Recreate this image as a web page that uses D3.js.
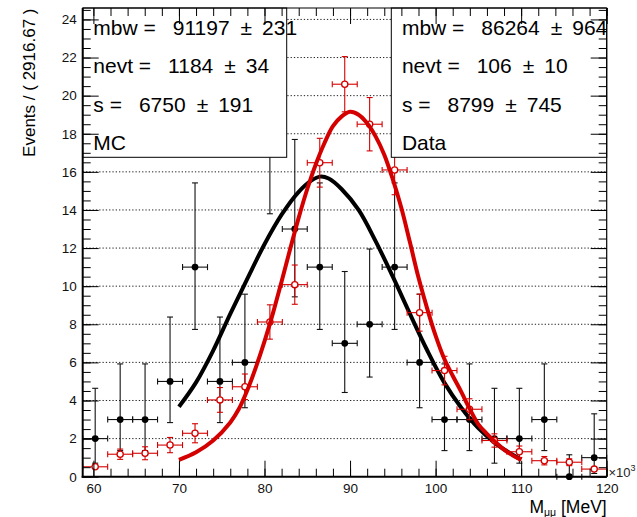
<!DOCTYPE html>
<html><head><meta charset="utf-8">
<script src="https://cdn.jsdelivr.net/npm/d3@7/dist/d3.min.js"></script>
<style>
body{margin:0;background:#fff;}
svg{display:block;font-family:"Liberation Sans",Arial,Helvetica,sans-serif;}
</style>
</head><body>
<svg id="chart" width="637" height="517"></svg>
<script>
// ---- data (x in MeV x10^3) ----
const binCenters = [60.21, 63.13, 66.04, 68.96, 71.88, 74.79, 77.71, 80.63, 83.54, 86.46, 89.38,
                    92.29, 95.21, 98.13, 101.04, 103.96, 106.88, 109.79, 112.71, 115.63, 118.54];
const binHalfWidth = 1.4583;
const mcCounts  = [2, 3, 3, 5, 11, 5, 6, 18, 13, 11, 7, 8, 11, 6, 3, 3, 2, 2, 3, 0, 1];
const mcErrLow  = [1.29, 1.63, 1.63, 2.16, 3.27, 2.16, 2.38, 4.20, 3.56, 3.27, 2.58, 2.77, 3.27, 2.38, 1.63, 1.63, 1.29, 1.29, 1.63, 0, 0.83];
const mcErrHigh = [2.64, 2.92, 2.92, 3.38, 4.42, 3.38, 3.58, 5.32, 4.70, 4.42, 3.77, 3.95, 4.42, 3.58, 2.92, 2.92, 2.64, 2.64, 2.92, 1.15, 2.30];
const dataValues = [0.52, 1.18, 1.23, 1.66, 2.28, 4.03, 4.72, 8.12, 10.08, 16.48, 20.6,
                    18.5, 16.1, 8.61, 5.57, 3.54, 1.90, 1.31, 0.84, 0.76, 0.40];
const dataErr    = [0.15, 0.27, 0.34, 0.40, 0.50, 0.65, 0.67, 0.90, 1.03, 1.28, 1.45,
                    1.40, 1.30, 0.97, 0.75, 0.55, 0.35, 0.30, 0.22, 0.18, 0.12];
const mcFitX = [70, 72, 74, 76, 78, 80, 82, 84, 85.5, 86.5, 87.5, 89, 91, 93, 95, 97, 99, 101, 103, 105, 107, 109, 110];
const mcFitY = [3.67, 4.95, 6.62, 8.55, 10.4, 12.2, 13.75, 14.95, 15.55, 15.75, 15.65, 15.1, 14.0, 12.35, 10.5, 8.55, 6.65, 4.95, 3.62, 2.55, 1.75, 1.15, 0.9];
const dataFitX = [70, 72, 74, 76, 77, 78, 79, 80, 81, 82, 83, 84, 85, 86, 87, 88, 89, 90, 91, 92, 93, 94, 95, 96, 97, 98, 99, 100, 101, 102, 103, 104, 105, 106, 107, 108, 109, 110];
const dataFitY = [0.88, 1.28, 1.9, 2.85, 3.55, 4.55, 5.75, 7.1, 8.6, 10.25, 11.95, 13.6, 15.1, 16.4, 17.5, 18.4, 18.9, 19.15, 19.0, 18.55, 17.85, 16.9, 15.6, 14.1, 12.3, 10.45, 8.85, 7.4, 6.2, 5.3, 4.45, 3.55, 2.75, 2.25, 1.82, 1.42, 1.12, 0.88];
const xTicks = [60, 70, 80, 90, 100, 110, 120];
const yTicks = [0, 2, 4, 6, 8, 10, 12, 14, 16, 18, 20, 22, 24];
const mcStats   = [["mbw =", "91197", "231"], ["nevt =", "1184", "34"], ["s =", "6750", "191"]];
const mcTitle = "MC";
const dataStats = [["mbw =", "86264", "964"], ["nevt =", "106", "10"], ["s =", "8799", "745"]];
const dataTitle = "Data";
const yTitle = "Events / ( 2916.67 )";

// ---- layout ----
const svg = d3.select("#chart");
const L = 82.7, R = 606.7, T = 8, B = 476.7;
const x = d3.scaleLinear().domain([58.75, 120]).range([L, R]);
const y = d3.scaleLinear().domain([0, 24.6]).range([B, T]);
const RED = "#d40000";

svg.append("rect").attr("width", 637).attr("height", 517).attr("fill", "#fff");

// grid
svg.append("g").selectAll("line").data(yTicks.filter(d => d > 0)).join("line")
  .attr("x1", L).attr("x2", R).attr("y1", d => y(d)).attr("y2", d => y(d))
  .attr("stroke", "#222").attr("stroke-width", 1).attr("stroke-dasharray", "1.3 2");

// MC points
const gMC = svg.append("g").attr("stroke", "#111").attr("stroke-width", 1.1);
binCenters.forEach((c, i) => {
  const v = mcCounts[i], cx = x(c), cy = y(v);
  const y1 = y(v + mcErrHigh[i]), y2 = y(v - mcErrLow[i]);
  const xa = x(c - binHalfWidth), xb = x(c + binHalfWidth);
  gMC.append("line").attr("x1", cx).attr("x2", cx).attr("y1", y1).attr("y2", y2);
  gMC.append("line").attr("x1", xa).attr("x2", xb).attr("y1", cy).attr("y2", cy);
  [y1, y2].forEach(yy => gMC.append("line").attr("x1", cx - 3).attr("x2", cx + 3).attr("y1", yy).attr("y2", yy));
  [xa, xb].forEach(xx => gMC.append("line").attr("x1", xx).attr("x2", xx).attr("y1", cy - 3).attr("y2", cy + 3));
  gMC.append("circle").attr("cx", cx).attr("cy", cy).attr("r", 3.4).attr("fill", "#000").attr("stroke", "none");
});

const line = d3.line().x(d => x(d[0])).y(d => y(d[1])).curve(d3.curveCatmullRom);
svg.append("path").datum(mcFitX.map((d, i) => [d, mcFitY[i]]))
  .attr("d", line).attr("fill", "none").attr("stroke", "#000").attr("stroke-width", 4);

// Data points
const gD = svg.append("g").attr("stroke", RED).attr("stroke-width", 1.1);
const r = 3.1;
binCenters.forEach((c, i) => {
  const v = dataValues[i], e = dataErr[i], cx = x(c), cy = y(v);
  const y1 = y(v + e), y2 = y(v - e);
  const xa = x(c - binHalfWidth), xb = x(c + binHalfWidth);
  if (cy - y1 > r) gD.append("line").attr("x1", cx).attr("x2", cx).attr("y1", y1).attr("y2", cy - r);
  if (y2 - cy > r) gD.append("line").attr("x1", cx).attr("x2", cx).attr("y1", cy + r).attr("y2", y2);
  gD.append("line").attr("x1", xa).attr("x2", cx - r).attr("y1", cy).attr("y2", cy);
  gD.append("line").attr("x1", cx + r).attr("x2", xb).attr("y1", cy).attr("y2", cy);
  if (cy - y1 > r) gD.append("line").attr("x1", cx - 3).attr("x2", cx + 3).attr("y1", y1).attr("y2", y1);
  if (y2 - cy > r) gD.append("line").attr("x1", cx - 3).attr("x2", cx + 3).attr("y1", y2).attr("y2", y2);
  [xa, xb].forEach(xx => gD.append("line").attr("x1", xx).attr("x2", xx).attr("y1", cy - 3).attr("y2", cy + 3));
  gD.append("circle").attr("cx", cx).attr("cy", cy).attr("r", r).attr("fill", "#fff").attr("stroke-width", 1.3);
});

svg.append("path").datum(dataFitX.map((d, i) => [d, dataFitY[i]]))
  .attr("d", line).attr("fill", "none").attr("stroke", RED).attr("stroke-width", 4);

// stat boxes
function statBox(x0, x1, stats, title) {
  const g = svg.append("g");
  g.append("rect").attr("x", x0).attr("y", T).attr("width", x1 - x0).attr("height", 157.3 - T)
    .attr("fill", "#fff").attr("stroke", "#000").attr("stroke-width", 1);
  const fs = 21, tx = x0 + 10.6;
  stats.forEach((s, i) => {
    const by = T + 27 + i * 38.3;
    const t1 = g.append("text").attr("x", tx).attr("y", by).attr("font-size", fs).text(s[0]);
    const x2 = tx + t1.node().getComputedTextLength() + 17;
    const t2 = g.append("text").attr("x", x2).attr("y", by).attr("font-size", fs).text(s[1]);
    const x3 = x2 + t2.node().getComputedTextLength() + 11;
    const t3 = g.append("text").attr("x", x3).attr("y", by).attr("font-size", fs).text("\u00b1");
    const x4 = x3 + t3.node().getComputedTextLength() + 10;
    g.append("text").attr("x", x4).attr("y", by).attr("font-size", fs).text(s[2]);
  });
  g.append("text").attr("x", tx).attr("y", T + 27 + 3 * 38.3).attr("font-size", fs).text(title);
}
statBox(L, 286.7, mcStats, mcTitle);
statBox(391.3, R, dataStats, dataTitle);

// axes
const yMinor = d3.range(0, 24.51, 0.5);
const xMinor = d3.range(60, 120.01, 2);
function axisG(gen) {
  const g = svg.append("g").call(gen);
  g.select(".domain").remove();
  g.selectAll(".tick line").attr("stroke", "#000").attr("stroke-width", 1);
  g.selectAll("text").attr("font-size", 13.5).attr("fill", "#111").attr("font-family", "Liberation Sans, Arial, sans-serif");
  return g;
}
axisG(d3.axisLeft(y).tickValues(yTicks).tickSize(-16).tickPadding(6).tickFormat(d3.format("d"))).attr("transform", `translate(${L},0)`);
axisG(d3.axisLeft(y).tickValues(yMinor).tickSize(-8).tickFormat("")).attr("transform", `translate(${L},0)`);
axisG(d3.axisRight(y).tickValues(yTicks).tickSize(-16).tickFormat("")).attr("transform", `translate(${R},0)`);
axisG(d3.axisRight(y).tickValues(yMinor).tickSize(-8).tickFormat("")).attr("transform", `translate(${R},0)`);
axisG(d3.axisBottom(x).tickValues(xTicks).tickSize(-16).tickPadding(7).tickFormat(d3.format("d"))).attr("transform", `translate(0,${B})`);
axisG(d3.axisBottom(x).tickValues(xMinor).tickSize(-8).tickFormat("")).attr("transform", `translate(0,${B})`);
axisG(d3.axisTop(x).tickValues(xTicks).tickSize(-16).tickFormat("")).attr("transform", `translate(0,${T})`);
axisG(d3.axisTop(x).tickValues(xMinor).tickSize(-8).tickFormat("")).attr("transform", `translate(0,${T})`);

// frame
svg.append("line").attr("x1", L).attr("x2", L).attr("y1", T).attr("y2", B + 1).attr("stroke", "#000").attr("stroke-width", 2);
svg.append("line").attr("x1", L - 1).attr("x2", R).attr("y1", B).attr("y2", B).attr("stroke", "#000").attr("stroke-width", 2);
svg.append("line").attr("x1", R).attr("x2", R).attr("y1", T).attr("y2", B).attr("stroke", "#000").attr("stroke-width", 1.2);
svg.append("line").attr("x1", L).attr("x2", R).attr("y1", T).attr("y2", T).attr("stroke", "#000").attr("stroke-width", 1.2);

// titles
svg.append("text").attr("transform", "rotate(-90)").attr("x", -8.5).attr("y", 35)
  .attr("text-anchor", "end").attr("font-size", 17).text(yTitle);

const xt = svg.append("text").attr("x", R).attr("y", 512.5).attr("text-anchor", "end").attr("font-size", 17.5);
xt.append("tspan").text("M");
xt.append("tspan").attr("font-size", 10.5).attr("dy", 3).text("\u03bc\u03bc");
xt.append("tspan").attr("dy", -3).text(" [MeV]");

const ex = svg.append("text").attr("x", 608.5).attr("y", 476.5).attr("font-size", 13).attr("fill", "#222");
ex.append("tspan").text("\u00d710");
ex.append("tspan").attr("font-size", 9).attr("dy", -6).text("3");
</script>
</body></html>
